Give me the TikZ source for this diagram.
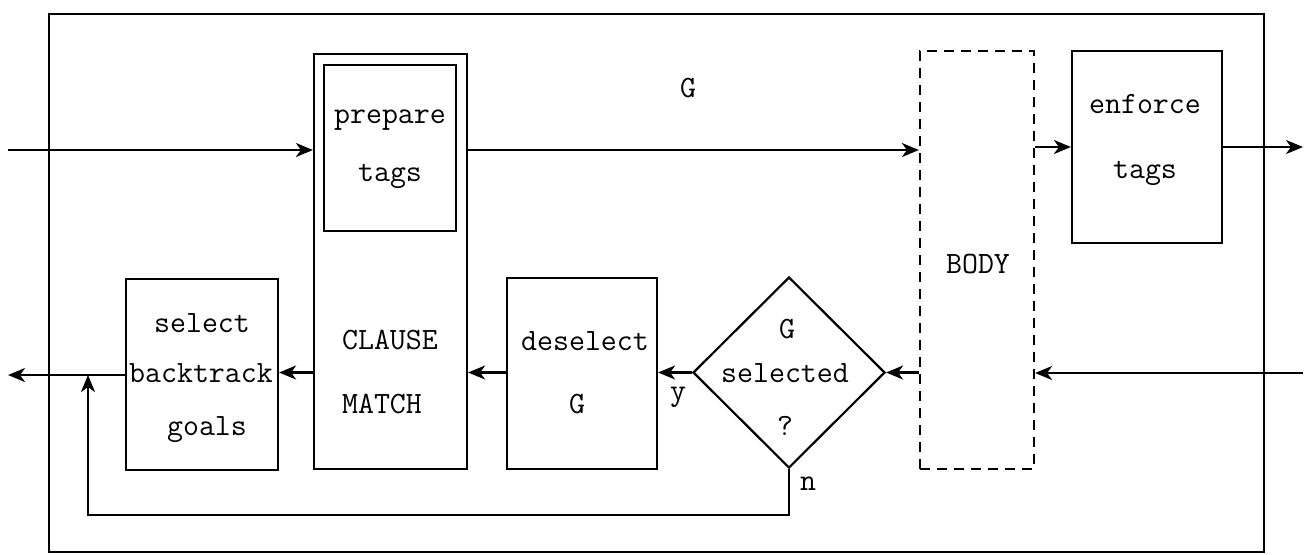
\documentclass[tikz,border=0pt]{standalone}
\usepackage{fontspec}
\usetikzlibrary{arrows.meta,shapes.geometric}
\begin{document}
\begin{tikzpicture}[x=0.5pt,y=-0.5pt,
  line width=1.1pt,
  box/.style={draw,rectangle,inner sep=0pt},
  dbox/.style={draw,rectangle,inner sep=0pt,dash pattern=on 5pt off 3.5pt},
  dia/.style={draw,diamond,inner sep=0pt},
  lbl/.style={inner sep=0pt,anchor=base,font=\ttfamily\fontsize{15.5}{18}\selectfont},
  arr/.style={-{Stealth[length=8.5pt,width=7pt,inset=2.5pt]}}]
\useasboundingbox (0,0) rectangle (1307,554);
% frame
\node[box,line width=1pt,minimum width=607.5pt,minimum height=269pt] (frame) at (656.5,283) {};
% boxes
\node[box,minimum width=76.5pt,minimum height=207.5pt] (clause) at (390.5,261.5) {};
\node[box,line width=1.4pt,minimum width=66pt,minimum height=83pt] (prep) at (390,148) {};
\node[dbox,minimum width=57pt,minimum height=209pt] (body) at (977,260) {};
\node[box,minimum width=75pt,minimum height=96pt] (enf) at (1147,147) {};
\node[box,minimum width=75pt,minimum height=95.5pt] (desel) at (582,373.5) {};
\node[box,minimum width=76pt,minimum height=95.5pt] (sel) at (202,374.5) {};
\node[dia,minimum width=96pt,minimum height=95.5pt] (dec) at (789,372.5) {};
% texts
\node[lbl] (tprep) at (390,123) {prepare};
\node[lbl] (tprep2) at (390,181) {tags};
\node[lbl] (tG) at (688,97) {G};
\node[lbl] (tenf) at (1145,113) {enforce};
\node[lbl] (tenf2) at (1145,178) {tags};
\node[lbl] (tbody) at (978,273) {BODY};
\node[lbl] (tsel1) at (202,332) {select};
\node[lbl] (tsel2) at (201,382) {backtrack};
\node[lbl] (tsel3) at (207,435) {goals};
\node[lbl,anchor=base west] (tcl1) at (341,349) {CLAUSE};
\node[lbl,anchor=base west] (tcl2) at (341,413) {MATCH};
\node[lbl] (tde1) at (585,350) {deselect};
\node[lbl] (tde2) at (577,413) {G};
\node[lbl] (tdi1) at (787,338) {G};
\node[lbl] (tdi2) at (785,382) {selected};
\node[lbl] (tdi3) at (785,435) {?};
\node[lbl] (ty) at (678,400) {y};
\node[lbl] (tn) at (808,490) {n};
% free ends
\coordinate (inL) at (8,150);
\coordinate (outR) at (1303,147);
\coordinate (inR) at (1303,373);
\coordinate (outL) at (8,375);
\coordinate (loopL) at (88,515);
% top path
\draw[arr] (inL) -- (inL -| clause.west);
\draw[arr] (clause.east |- inL) -- (body.west |- inL);
\draw[arr] (body.east |- enf.west) -- (enf.west);
\draw[arr] (enf.east) -- (enf.east -| outR);
% bottom path
\draw[arr] (inR) -- (inR -| body.east);
\draw[arr] (body.west |- dec.east) -- (dec.east);
\draw[arr] (dec.west) -- (dec.west -| desel.east);
\draw[arr] (desel.west |- dec.west) -- (clause.east |- dec.west);
\draw[arr] (clause.west |- dec.west) -- (sel.east |- dec.west);
\draw[arr] (sel.west |- outL) -- (outL);
% loop
\draw[arr] (dec.south) |- (loopL) -- (loopL |- outL);
\end{tikzpicture}
\end{document}
